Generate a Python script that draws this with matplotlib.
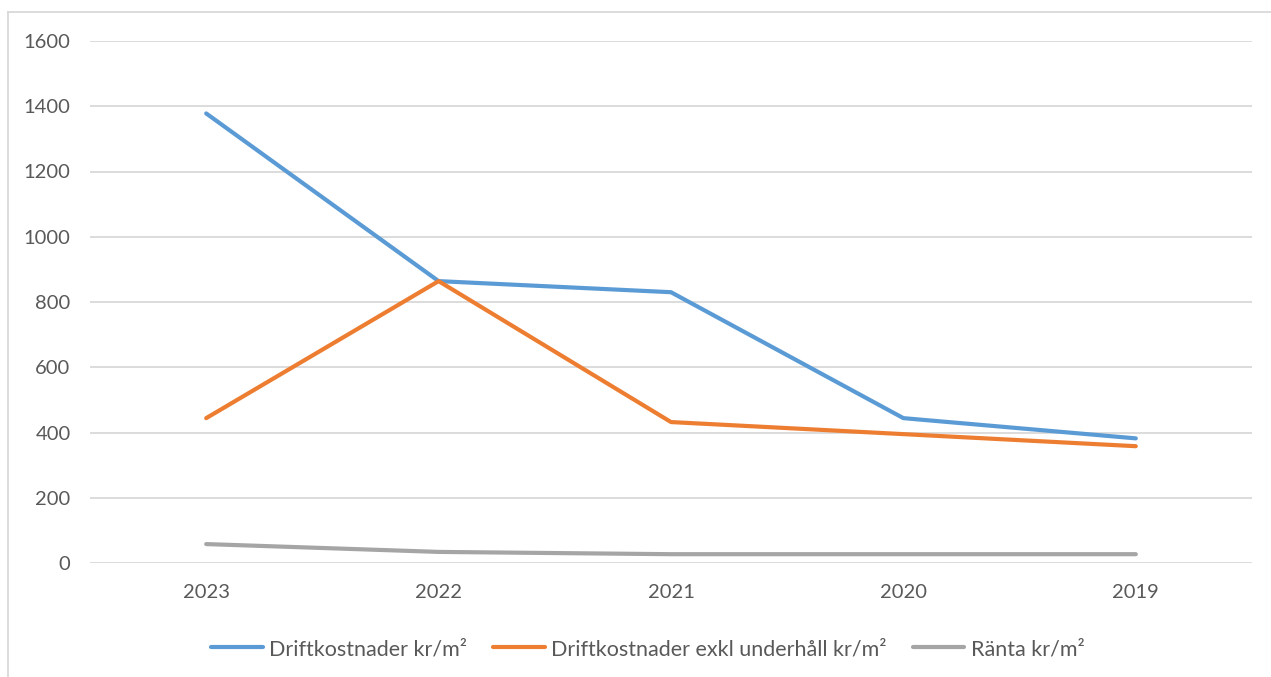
import numpy as np
import matplotlib
matplotlib.use("Agg")
import matplotlib.pyplot as plt
from matplotlib.lines import Line2D

# data
years = ["2023", "2022", "2021", "2020", "2019"]
drift = [1378, 864, 830, 444, 382]
drift_exkl = [444, 864, 432, 395, 358]
ranta = [58, 34, 27, 27, 27]

series_names = ["Driftkostnader kr/m²", "Driftkostnader exkl underhåll kr/m²", "Ränta kr/m²"]
colors = ["#5B9BD5", "#ED7D31", "#A5A5A5"]

plt.rcParams['font.family'] = ['Lato', 'DejaVu Sans']

fig = plt.figure(figsize=(12.71, 6.77), dpi=100)
W, H = 1271, 677
ax = fig.add_axes([90 / W, 1 - 563 / H, (1252 - 90) / W, (563 - 41) / H])

x = np.arange(len(years))
for vals, c, name in zip([drift, drift_exkl, ranta], colors, series_names):
    ax.plot(x, vals, color=c, lw=3.0, label=name, solid_capstyle="round")

ax.set_xlim(-0.5, len(years) - 0.5)
ax.set_ylim(0, 1600)
ax.set_yticks(np.arange(0, 1601, 200))
ax.set_xticks(x)
ax.set_xticklabels(years)
ax.grid(axis="y", color="#D9D9D9", lw=1.3)
ax.set_axisbelow(True)
for s in ax.spines.values():
    s.set_visible(False)
ax.tick_params(length=0, labelsize=14.5, labelcolor="#595959")
ax.tick_params(axis="y", pad=14)
ax.tick_params(axis="x", pad=15)

# outer chart border
fig.add_artist(Line2D([8 / W, 8 / W], [0, 1 - 12 / H], color="#D9D9D9", lw=1.3))
fig.add_artist(Line2D([8 / W, 1], [1 - 12 / H, 1 - 12 / H], color="#D9D9D9", lw=1.3))

fig.legend(loc="center", bbox_to_anchor=(648 / W, 1 - 649 / H), ncol=3, frameon=False,
           fontsize=15.5, labelcolor="#595959", handlelength=2.4, columnspacing=1.2,
           handletextpad=0.3)

fig.savefig("out.png", dpi=100, facecolor="white")
